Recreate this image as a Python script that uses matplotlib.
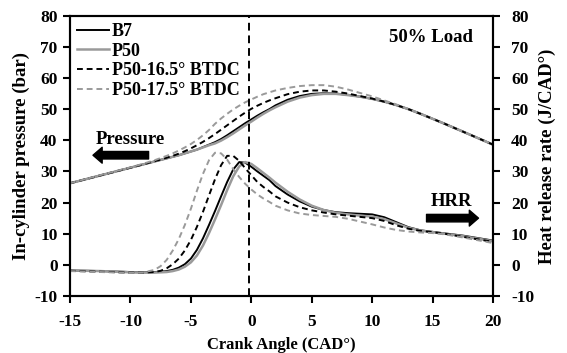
import matplotlib
matplotlib.use("Agg")
import matplotlib.pyplot as plt

plt.rcParams["font.family"] = ["Liberation Serif", "DejaVu Serif"]
plt.rcParams["font.weight"] = "bold"
plt.rcParams["axes.unicode_minus"] = False

# crank angle grid (CAD) shared by every series
CA = [-15, -12.5, -10, -9, -8, -7.5, -7, -6.5, -6, -5.5, -5, -4.5, -4, -3.5, -3,
      -2.5, -2, -1.5, -1, -0.5, 0, 0.5, 1, 1.5, 2, 3, 4, 5, 6, 7, 8, 9, 10, 11,
      12, 13, 14, 15, 16, 17.5, 20]

# in-cylinder pressure (bar)
P_B7 = [26.2, 28.7, 31.2, 32.2, 33.2, 33.7, 34.2, 34.7, 35.2, 35.8, 36.4, 37.0, 37.8, 38.6, 39.4,
        40.4, 41.6, 42.9, 44.2, 45.5, 46.7, 47.9, 49.0, 50.0, 51.2, 53.0, 54.2, 54.9, 55.1, 55.0,
        54.6, 54.0, 53.3, 52.4, 51.3, 50.0, 48.5, 46.9, 45.3, 42.8, 38.6]
P_P50 = [26.2, 28.7, 31.2, 32.2, 33.2, 33.7, 34.2, 34.7, 35.2, 35.8, 36.4, 37.0, 37.7, 38.4, 39.0,
         39.9, 41.0, 42.2, 43.5, 44.8, 46.0, 47.3, 48.5, 49.6, 50.6, 52.4, 53.7, 54.5, 54.9, 54.9,
         54.5, 54.0, 53.3, 52.4, 51.3, 50.0, 48.5, 46.9, 45.3, 42.8, 38.6]
P_165 = [26.2, 28.7, 31.2, 32.2, 33.3, 33.8, 34.4, 35.0, 35.7, 36.5, 37.4, 38.4, 39.5, 40.7, 42.0,
         43.4, 44.8, 46.2, 47.6, 48.9, 50.1, 51.1, 52.0, 52.8, 53.5, 54.8, 55.6, 56.0, 56.0, 55.6,
         55.0, 54.2, 53.4, 52.4, 51.3, 50.0, 48.5, 46.9, 45.3, 42.8, 38.6]
P_175 = [26.2, 28.8, 31.3, 32.4, 33.6, 34.3, 35.0, 35.8, 36.7, 37.7, 38.8, 40.1, 41.6, 43.3, 45.3,
         47.0, 48.5, 49.9, 51.1, 52.2, 53.1, 54.0, 54.8, 55.4, 56.0, 56.8, 57.4, 57.7, 57.7, 57.2,
         56.3, 55.2, 54.1, 52.8, 51.5, 50.0, 48.5, 46.9, 45.3, 42.8, 38.6]

# heat release rate (J/CAD)
H_B7 = [-1.8, -2.0, -2.3, -2.4, -2.3, -2.2, -2.0, -1.6, -0.9, 0.2, 2.0, 4.8, 8.5, 12.8, 17.3,
        22.0, 26.6, 30.6, 33.0, 32.8, 31.5, 30.0, 28.6, 27.2, 25.3, 22.6, 20.4, 18.7, 17.6, 16.9,
        16.6, 16.4, 16.2, 15.3, 13.7, 12.1, 11.1, 10.6, 10.1, 9.4, 7.8]
H_P50 = [-1.8, -2.0, -2.4, -2.5, -2.5, -2.4, -2.3, -2.0, -1.5, -0.6, 0.8, 3.0, 6.2, 10.2, 14.6,
         19.2, 24.0, 28.4, 31.6, 33.0, 32.4, 31.0, 29.5, 28.0, 26.4, 23.5, 21.0, 19.0, 17.6, 16.7,
         16.2, 15.8, 15.5, 14.7, 13.3, 11.9, 11.0, 10.5, 10.0, 9.2, 7.6]
H_165 = [-1.9, -2.2, -2.5, -2.5, -2.3, -1.9, -1.1, 0.2, 2.0, 4.6, 8.0, 12.2, 17.0, 22.3, 27.5,
         32.0, 35.0, 35.0, 33.4, 31.0, 28.8, 26.6, 25.0, 23.6, 22.0, 20.0, 18.5, 17.5, 16.8, 16.2,
         15.8, 15.4, 15.0, 14.1, 12.7, 11.6, 10.9, 10.5, 10.0, 9.0, 7.4]
H_175 = [-2.0, -2.3, -2.6, -2.5, -1.6, -0.4, 1.6, 4.6, 8.3, 12.8, 18.0, 23.8, 29.2, 33.6, 36.0,
         35.8, 33.8, 30.8, 28.2, 26.0, 24.2, 22.6, 21.3, 20.2, 19.0, 17.5, 16.5, 16.0, 15.7, 15.4,
         14.8, 13.9, 13.0, 12.0, 11.2, 10.7, 10.4, 10.2, 9.8, 8.8, 7.0]

LABELS = ["B7", "P50", "P50-16.5° BTDC", "P50-17.5° BTDC"]
TDC_MARK = -0.2

fig = plt.figure(figsize=(5.67, 3.53), dpi=100)
ax = fig.add_axes([0.1235, 0.1615, 0.746, 0.794])

styles = [
    dict(color="black", lw=1.4, ls="-"),
    dict(color="#9a9a9a", lw=1.8, ls="-"),
    dict(color="black", lw=1.4, ls=(0, (3, 2))),
    dict(color="#9a9a9a", lw=1.4, ls=(0, (3, 2))),
]
pressures = [P_B7, P_P50, P_165, P_175]
hrrs = [H_B7, H_P50, H_165, H_175]

for p, st in zip(pressures, styles):
    ax.plot(CA, p, **st)
for h, st, lab in zip(hrrs, styles, LABELS):
    ax.plot(CA, h, label=lab, **st)

ax.axvline(TDC_MARK, color="black", lw=1.4, ls=(0, (4, 2.5)))

ax.set_xlim(-15, 20)
ax.set_ylim(-10, 80)
ax.set_xticks(range(-15, 21, 5))
ax.set_yticks(range(-10, 81, 10))
ax.tick_params(axis="y", direction="out", length=5, width=1.5, labelsize=12.5, pad=4)
ax.tick_params(axis="x", direction="out", length=5, width=1.5, labelsize=12.5, pad=8)
for s in ax.spines.values():
    s.set_linewidth(1.5)

ax2 = ax.twinx()
ax2.set_ylim(-10, 80)
ax2.set_yticks(range(-10, 81, 10))
ax2.tick_params(direction="out", length=5, width=1.5, labelsize=12.5, pad=8)
for s in ax2.spines.values():
    s.set_linewidth(1.5)

ax.set_xlabel("Crank Angle (CAD°)", fontsize=12, fontweight="bold", labelpad=5)
ax.set_ylabel("In-cylinder pressure (bar)", fontsize=13.5, fontweight="bold", labelpad=3)
ax2.set_ylabel("Heat release rate (J/CAD°)", fontsize=13.5, fontweight="bold", labelpad=3)

ax.legend(loc="upper left", frameon=False, fontsize=13, handlelength=1.75,
          handletextpad=0.15, labelspacing=0.15, borderaxespad=0.3,
          borderpad=0.1)

ax.text(14.9, 72.9, "50% Load", ha="center", va="center", fontsize=13.5, fontweight="bold")

arrow = dict(arrowstyle="simple,head_length=0.55,head_width=0.95,tail_width=0.45",
             color="black", shrinkA=0, shrinkB=0, mutation_scale=12)
ax.text(-10.0, 40.3, "Pressure", ha="center", va="center", fontsize=13.5, fontweight="bold")
ax.annotate("", xy=(-13.1, 35.2), xytext=(-8.5, 35.2), arrowprops=arrow)
ax.text(16.6, 20.3, "HRR", ha="center", va="center", fontsize=13.5, fontweight="bold")
ax.annotate("", xy=(18.8, 15.0), xytext=(14.5, 15.0), arrowprops=arrow)

fig.savefig("out.png", dpi=100)
